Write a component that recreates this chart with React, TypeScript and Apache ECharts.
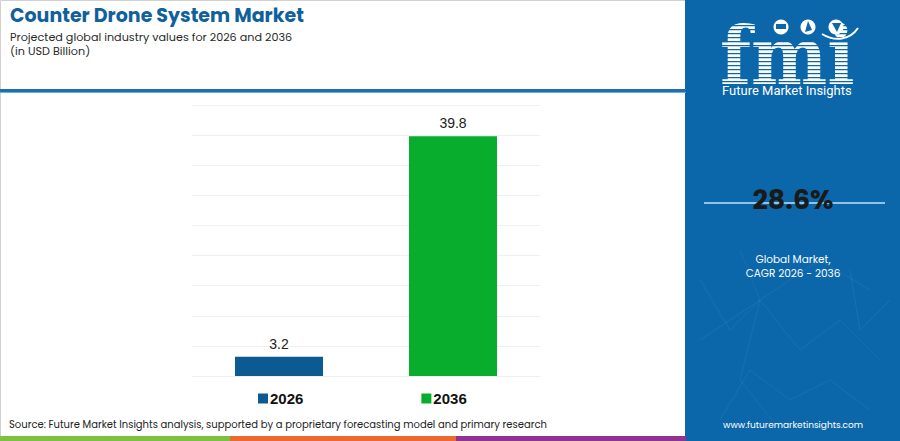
import React, { useEffect, useRef } from "react";
import * as echarts from "echarts";

const categories = ["2026", "2036"];
const seriesNames = ["2026", "2036"];
const values2026 = [3.2, "-"];
const values2036 = ["-", 39.8];
const seriesColors = ["#0b5a91", "#09ad2d"];
const yMax = 45;
const yInterval = 5;
const cagrText = "28.6%";
const titleText = "Counter Drone System Market";
const subtitleLines = ["Projected global industry values for 2026 and 2036", "(in USD Billion)"];
const cagrLabelLines = ["Global Market,", "CAGR 2026 - 2036"];
const sourceText = "Source: Future Market Insights analysis, supported by a proprietary forecasting model and primary research";
const siteText = "www.futuremarketinsights.com";

const PANEL = "#0b67a9";

export default function App() {
  const ref = useRef<HTMLDivElement>(null);
  useEffect(() => {
    const chart = echarts.init(ref.current!, null, { renderer: "svg" });
    const font = "Poppins, 'Open Sans', 'Noto Sans', sans-serif";

    const stripes: any[] = [];
    for (let y = 25; y < 84; y += 4) {
      stripes.push({
        type: "rect",
        shape: { x: 718, y: y, width: 140, height: 1.3 },
        style: { fill: PANEL },
        z: 20,
      });
    }

    const net: any[] = [
      [[700, 280], [730, 330], [760, 300], [800, 350], [840, 320], [880, 360]],
      [[720, 420], [750, 370], [790, 400], [830, 380], [870, 410]],
      [[740, 250], [760, 300], [740, 380], [780, 430]],
      [[850, 270], [860, 330], [890, 300]],
      [[700, 340], [760, 300], [820, 260], [870, 290]],
    ].map((pts) => ({
      type: "polyline",
      shape: { points: pts },
      style: { stroke: "rgba(255,255,255,0.06)", lineWidth: 1, fill: null },
      z: 1,
    }));

    chart.setOption({
      animation: false,
      backgroundColor: "#ffffff",
      grid: { left: 192, right: 360, top: 105, bottom: 65 },
      legend: {
        left: 258,
        top: 391,
        padding: 0,
        itemWidth: 10,
        itemHeight: 10,
        itemGap: 118,
        icon: "rect",
        data: seriesNames,
        textStyle: {
          fontFamily: "'Liberation Sans', Arial, sans-serif",
          fontWeight: "bold",
          fontSize: 15,
          color: "#111",
          padding: [0, 0, 0, -3],
        },
      },
      xAxis: {
        type: "category",
        data: categories,
        axisLine: { show: true, lineStyle: { color: "#eeeeee" } },
        axisTick: { show: false },
        axisLabel: { show: false },
      },
      yAxis: {
        type: "value",
        min: 0,
        max: yMax,
        interval: yInterval,
        axisLabel: { show: false },
        axisLine: { show: false },
        axisTick: { show: false },
        splitLine: { lineStyle: { color: "#f0f0f0", width: 1 } },
      },
      series: [
        {
          name: seriesNames[0],
          type: "bar",
          data: values2026,
          barWidth: 88,
          barGap: "-100%",
          itemStyle: { color: seriesColors[0] },
          label: {
            show: true,
            position: "top",
            distance: 6,
            fontFamily: "'Liberation Sans', Arial, sans-serif",
            fontSize: 14,
            color: "#222",
          },
        },
        {
          name: seriesNames[1],
          type: "bar",
          data: values2036,
          barWidth: 88,
          itemStyle: { color: seriesColors[1] },
          label: {
            show: true,
            position: "top",
            distance: 6,
            fontFamily: "'Liberation Sans', Arial, sans-serif",
            fontSize: 14,
            color: "#222",
          },
        },
      ],
      graphic: [
        // left border
        { type: "rect", shape: { x: 0.5, y: 0.5, width: 685, height: 440 }, style: { fill: null, stroke: "#d0d0d0", lineWidth: 1 }, z: 0, silent: true },
        // title
        { type: "text", x: 10, y: 6, style: { text: titleText, font: `bold 19px ${font}`, lineHeight: 19, fill: "#10609c" }, z: 10 },
        { type: "text", x: 10, y: 29.5, style: { text: subtitleLines.join("\n"), font: `11.2px ${font}`, lineHeight: 14.5, fill: "#2a2a2a" }, z: 10 },
        // header line
        { type: "rect", shape: { x: 0, y: 89, width: 686, height: 4 }, style: { fill: "#1f6fae" }, z: 10 },
        { type: "rect", shape: { x: 0, y: 92, width: 686, height: 1 }, style: { fill: "#6aaede" }, z: 10 },
        // bottom stripes
        { type: "rect", shape: { x: 0, y: 436, width: 230, height: 5 }, style: { fill: "#7cc242" }, z: 10 },
        { type: "rect", shape: { x: 230, y: 436, width: 226, height: 5 }, style: { fill: "#ec6a2f" }, z: 10 },
        { type: "rect", shape: { x: 456, y: 436, width: 230, height: 5 }, style: { fill: "#8e3493" }, z: 10 },
        // source
        { type: "text", x: 9, y: 419, style: { text: sourceText, font: `10px ${font}`, fill: "#222" }, z: 10 },
        // panel
        { type: "rect", shape: { x: 685, y: 0, width: 215, height: 441 }, style: { fill: PANEL }, z: 0 },
        ...net,
        // logo
        { type: "text", x: 720, y: 16, style: { text: "fmi", font: `bold 80px 'DejaVu Serif', serif`, fill: "#ffffff" }, scaleX: 0.9, z: 15 },
        ...stripes,
        { type: "circle", shape: { cx: 781, cy: 27, r: 7.5 }, style: { fill: "#ffffff" }, z: 25 },
        { type: "circle", shape: { cx: 808, cy: 27, r: 7.5 }, style: { fill: "#ffffff" }, z: 25 },
        { type: "circle", shape: { cx: 836, cy: 27, r: 7.5 }, style: { fill: "#ffffff" }, z: 25 },
        { type: "rect", shape: { x: 776, y: 24, width: 10, height: 5 }, style: { fill: PANEL }, z: 26 },
        { type: "polygon", shape: { points: [[805, 32], [808, 21], [812, 30]] }, style: { fill: PANEL }, z: 26 },
        { type: "polygon", shape: { points: [[832, 23], [841, 23], [837, 32]] }, style: { fill: PANEL }, z: 26 },
        { type: "bezierCurve", shape: { x1: 822, y1: 34, x2: 858, y2: 28, cpx1: 835, cpy1: 42, cpx2: 850, cpy2: 40 }, style: { stroke: "#ffffff", lineWidth: 2, fill: null }, z: 25 },
        { type: "text", x: 722, y: 84, style: { text: "Future Market Insights", font: `13px 'Roboto', sans-serif`, fill: "#ffffff" }, z: 25 },
        // CAGR
        { type: "rect", shape: { x: 704, y: 202, width: 181, height: 2 }, style: { fill: "#8cc4ec" }, z: 10 },
        { type: "text", x: 793, y: 199, style: { text: cagrText, font: `bold 27px ${font}`, fill: "#1a1a1a", align: "center", verticalAlign: "middle" }, z: 12 },
        { type: "text", x: 793, y: 266, style: { text: cagrLabelLines.join("\n"), font: `10.5px ${font}`, lineHeight: 14, fill: "#ffffff", align: "center", verticalAlign: "middle" }, z: 12 },
        { type: "text", x: 793, y: 425, style: { text: siteText, font: `9px ${font}`, fill: "#ffffff", align: "center", verticalAlign: "middle" }, z: 12 },
      ],
    });
    return () => chart.dispose();
  }, []);
  return (
    <div
      ref={ref}
      style={{ position: "absolute", left: 0, top: 0, width: 900, height: 441 }}
    />
  );
}
